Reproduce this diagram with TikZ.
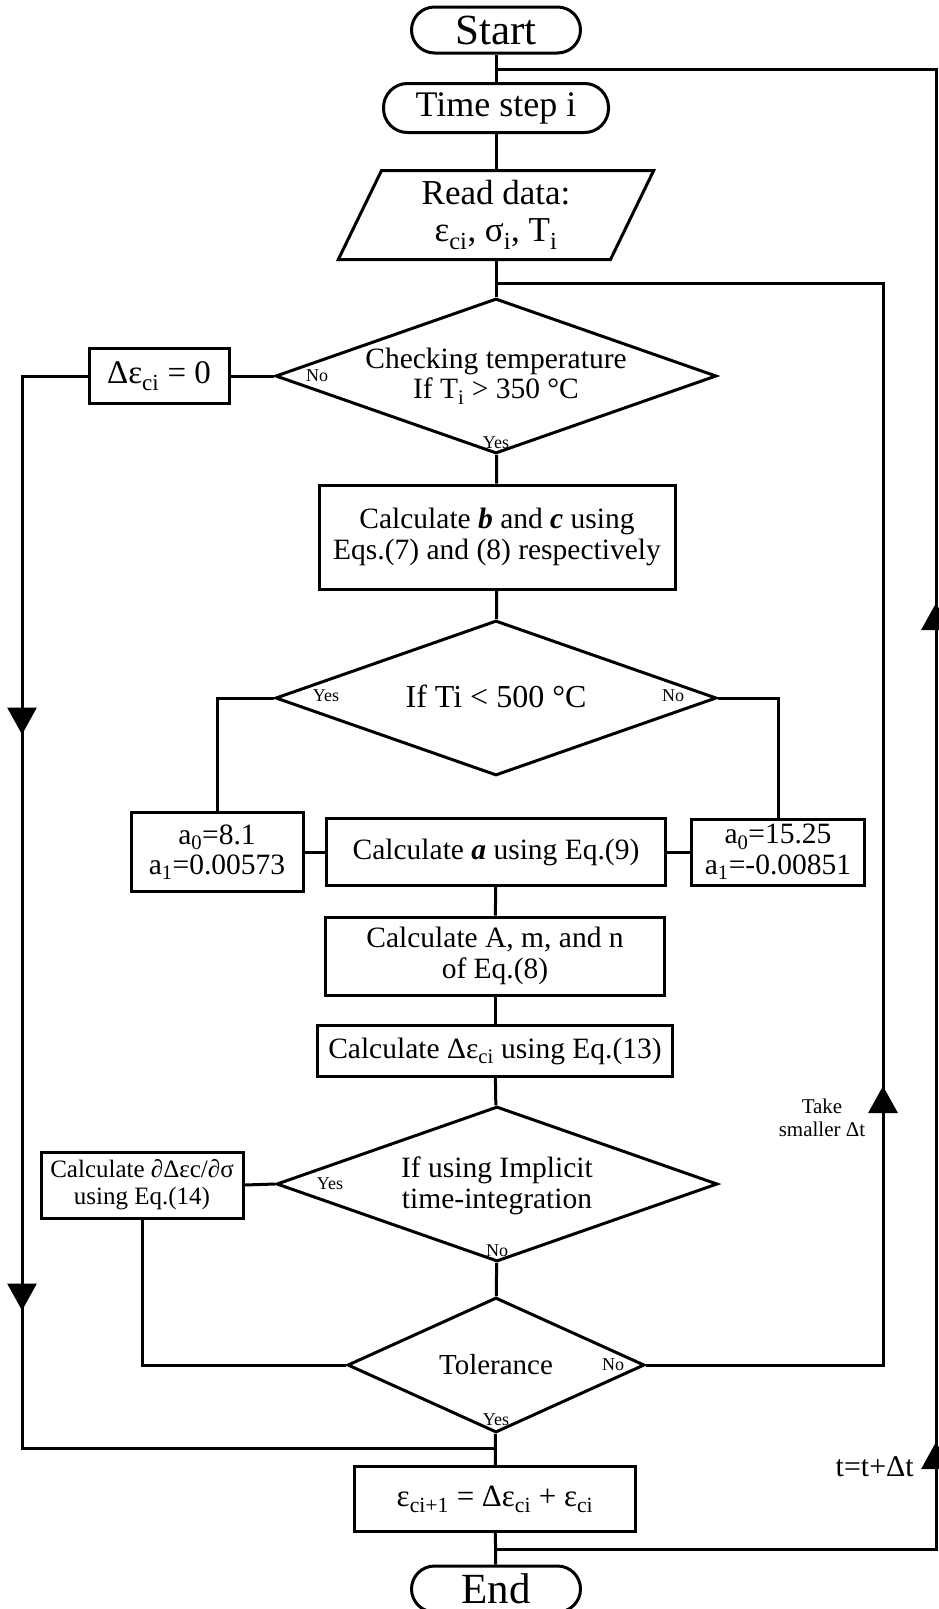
\documentclass[tikz,border=0pt]{standalone}
\usepackage{fontspec}
\setmainfont{Liberation Serif}
\usetikzlibrary{arrows.meta,positioning,shapes.geometric,decorations.markings}

\tikzset{
  base/.style={draw,line width=3pt,inner sep=2pt,align=center,font=\fontsize{29.5}{30.5}\selectfont},
  term/.style={base,rectangle,rounded corners=23pt,minimum width=169pt,minimum height=46pt,font=\fontsize{43}{43}\selectfont},
  proc/.style={base,rectangle},
  io/.style={base,trapezium,trapezium left angle=68.5,trapezium right angle=111.5,trapezium stretches=true,minimum width=316pt,minimum height=89pt},
  decision/.style={base,diamond,inner sep=0pt,minimum width=441pt,minimum height=155pt},
  dtext/.style={align=center,inner sep=0pt,font=\fontsize{29.5}{30.5}\selectfont},
  yn/.style={inner sep=0pt,font=\fontsize{18}{18}\selectfont},
  conn/.style={line width=3pt},
  arrowat/.style={postaction={decorate,decoration={markings,mark=at position #1 with {\arrow{Triangle[width=29pt,length=27pt]}}}}},
}

\begin{document}
\begin{tikzpicture}[x=1pt,y=-1pt]
  \useasboundingbox (0,0) rectangle (939,1609);

  \node[term] (start) at (496,30) {Start};
  \node[term,rounded corners=24pt,minimum width=225pt,minimum height=49pt,font=\fontsize{36}{36}\selectfont] (tstep) at (496,108) {Time step i};
  \node[io,font=\fontsize{35}{37}\selectfont] (read) at (496,215) {Read data:\\ε\textsubscript{ci}, σ\textsubscript{i}, T\textsubscript{i}};

  \node[decision] (chk) at (496,376) {};
  \node[dtext] (chktxt) at (chk) {Checking temperature\\If T\textsubscript{i} > 350 °C};
  \node[proc,minimum width=140pt,minimum height=55pt,font=\fontsize{33}{33}\selectfont] (dz) at (159,376) {Δε\textsubscript{ci} = 0};
  \node[proc,minimum width=356pt,minimum height=104pt] (cbc) at (497,537) {Calculate \textbf{\textit{b}} and \textbf{\textit{c}} using\\Eqs.(7) and (8) respectively};

  \node[decision] (lt) at (496,698) {};
  \node[dtext,font=\fontsize{32}{32}\selectfont] (lttxt) at ([yshift=2pt]lt) {If Ti < 500 °C};
  \node[proc,minimum width=172pt,minimum height=79pt] (aL) at (217,852) {a\textsubscript{0}=8.1\\a\textsubscript{1}=0.00573};
  \node[proc,minimum width=339pt,minimum height=67pt] (ca) at (496,852) {Calculate \textbf{\textit{a}} using Eq.(9)};
  \node[proc,minimum width=173pt,minimum height=66pt] (aR) at (778,852) {a\textsubscript{0}=15.25\\a\textsubscript{1}=-0.00851};
  \node[proc,minimum width=339pt,minimum height=78pt] (cA) at (495,956) {Calculate A, m, and n\\of Eq.(8)};
  \node[proc,minimum width=355pt,minimum height=51pt] (cde) at (495,1051) {Calculate Δε\textsubscript{ci} using Eq.(13)};

  \node[decision] (impl) at (497,1184) {};
  \node[dtext] (impltxt) at ([yshift=-2pt]impl) {If using Implicit\\time-integration};
  \node[proc,minimum width=202pt,minimum height=66pt,font=\fontsize{25}{27}\selectfont] (dsig) at (142,1185) {Calculate ∂Δεc/∂σ\\using Eq.(14)};

  \node[decision,minimum width=297pt,minimum height=135pt] (tol) at (496,1365) {};
  \node[dtext,font=\fontsize{29}{29}\selectfont] (toltxt) at (tol) {Tolerance};
  \node[proc,minimum width=281pt,minimum height=65pt,font=\fontsize{31}{31}\selectfont] (upd) at (495,1499) {ε\textsubscript{ci+1} = Δε\textsubscript{ci} + ε\textsubscript{ci}};
  \node[term] (end) at (496,1589) {End};

  % yes / no
  \node[yn] (chkno) at ([xshift=43pt]chk.west) {No};
  \node[yn] (chkyes) at ([yshift=12pt]chk.south) {Yes};
  \node[yn] (ltyes) at ([xshift=52pt,yshift=2pt]lt.west) {Yes};
  \node[yn] (ltno) at ([xshift=-45pt,yshift=2pt]lt.east) {No};
  \node[yn] (implyes) at ([xshift=55pt]impl.west) {Yes};
  \node[yn] (implno) at ([yshift=12pt]impl.south) {No};
  \node[yn] (tolno) at ([xshift=-33pt]tol.east) {No};
  \node[yn] (tolyes) at ([yshift=14pt]tol.south) {Yes};

  \node[align=center,font=\fontsize{21}{23}\selectfont] (smaller) at (822,1118) {Take\\smaller Δt};
  \node[anchor=east,inner sep=0pt,font=\fontsize{30}{30}\selectfont] (tinc) at (914,1467) {t=t+Δt};

  \coordinate (j1) at (496,69);
  \coordinate (j2) at (496,283);
  \coordinate (j4) at (496,1448);
  \coordinate (j5) at (496,1549);
  \coordinate (lout) at (22,0);
  \coordinate (rin) at (883,0);
  \coordinate (rout) at (936,0);

  \draw[conn] (start) -- (tstep);
  \draw[conn] (tstep) -- (read);
  \draw[conn] (read) -- (chk);
  \draw[conn] (chk) -- (cbc);
  \draw[conn] (chk.west) -- (dz.east);
  \draw[conn] (cbc) -- (lt);
  \draw[conn] (lt.west) -| (aL.north);
  \draw[conn] (lt.east) -| (aR.north);
  \draw[conn] (aL) -- (ca);
  \draw[conn] (ca) -- (aR);
  \draw[conn] (ca) -- (cA);
  \draw[conn] (cA) -- (cde);
  \draw[conn] (cde) -- (impl);
  \draw[conn] (impl.west) -- (dsig.east);
  \draw[conn] (impl) -- (tol);
  \draw[conn] (dsig.south) |- (tol.west);
  \draw[conn] (tol) -- (upd);
  \draw[conn] (upd) -- (end);

  % loops
  \draw[conn,arrowat=424pt,arrowat=1000pt] (dz.west) -- (dz.west -| lout) |- (j4);
  \draw[conn,arrowat=516pt] (tol.east) -- (tol.east -| rin) |- (j2);
  \draw[conn,arrowat=547pt,arrowat=1386pt] (j5) -- (j5 -| rout) |- (j1);
\end{tikzpicture}
\end{document}
